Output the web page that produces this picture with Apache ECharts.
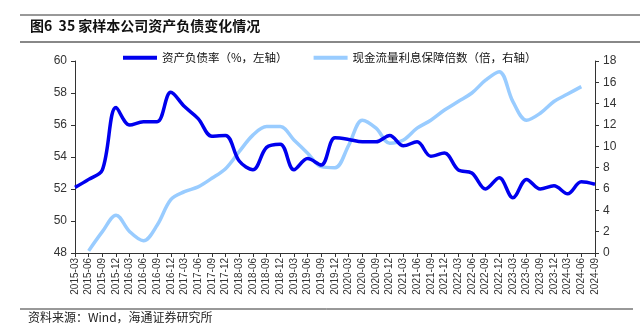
<!DOCTYPE html>
<html><head><meta charset="utf-8">
<script src="https://cdn.jsdelivr.net/npm/echarts@6/dist/echarts.min.js"></script>
<style>html,body{margin:0;padding:0;background:#fff}#c{width:640px;height:330px}</style>
</head><body><div id="c"></div>
<script>
const categories = ['2015-03','2015-06','2015-09','2015-12','2016-03','2016-06','2016-09','2016-12','2017-03','2017-06','2017-09','2017-12','2018-03','2018-06','2018-09','2018-12','2019-03','2019-06','2019-09','2019-12','2020-03','2020-06','2020-09','2020-12','2021-03','2021-06','2021-09','2021-12','2022-03','2022-06','2022-09','2022-12','2023-03','2023-06','2023-09','2023-12','2024-03','2024-06','2024-09'];
const debtRatio = [52.1,52.6,53.2,57.1,56.0,56.2,56.2,58.05,57.15,56.4,55.3,55.35,53.75,53.2,54.6,54.8,53.2,53.9,53.5,55.2,55.1,54.95,54.95,55.35,54.7,54.95,54.05,54.25,53.2,53.0,52.0,52.7,51.45,52.6,52.0,52.2,51.7,52.45,52.3];
const coverage = [null,0.2,2.0,3.55,2.0,1.15,2.6,5.0,5.75,6.2,7.0,7.9,9.5,11.05,11.85,11.85,10.6,9.35,8.1,8.0,10.1,12.45,11.7,10.3,10.6,11.7,12.45,13.4,14.2,15.0,16.2,17.0,14.2,12.45,13.1,14.2,14.9,15.6,null];
const seriesNames = ['资产负债率（%，左轴）','现金流量利息保障倍数（倍，右轴）'];
const titleText = '图6  35 家样本公司资产负债变化情况';
const sourceText = '资料来源：Wind，海通证券研究所';

const font = '"Noto Sans CJK SC", "Liberation Sans", sans-serif';
const chart = echarts.init(document.getElementById('c'), null, {renderer:'canvas'});
chart.setOption({
  animation:false,
  backgroundColor:'#fff',
  textStyle:{fontFamily:font},
  graphic:[
    {type:'line', shape:{x1:20,y1:15,x2:640,y2:15}, style:{stroke:'#333',lineWidth:1}},
    {type:'line', shape:{x1:20,y1:42,x2:640,y2:42}, style:{stroke:'#888',lineWidth:2}},
    {type:'text', left:30, top:19, style:{text:titleText, font:'bold 14px '+font, fill:'#111'}},
    {type:'line', shape:{x1:20,y1:309,x2:633,y2:309}, style:{stroke:'#333',lineWidth:1}},
    {type:'text', left:28, top:311, style:{text:sourceText, font:'12px '+font, fill:'#222'}}
  ],
  legend:{
    top:47, left:118, itemGap:26, itemWidth:34, itemHeight:4, icon:'rect',
    textStyle:{fontSize:11.5, color:'#111', fontFamily:font},
    data:seriesNames
  },
  grid:{left:75, right:45, top:61, bottom:77},
  xAxis:{
    type:'category', data:categories, boundaryGap:false,
    axisLine:{lineStyle:{color:'#333'}},
    axisTick:{show:true, alignWithLabel:true, interval:0, lineStyle:{color:'#333'}, length:4},
    axisLabel:{rotate:90, interval:0, fontSize:10, color:'#333', margin:5, fontFamily:'"Liberation Sans", Arial'}
  },
  yAxis:[
    {type:'value', min:48, max:60, interval:2, position:'left',
     axisLine:{show:true, lineStyle:{color:'#333'}}, axisTick:{show:true, length:4, lineStyle:{color:'#333'}},
     splitLine:{show:false}, axisLabel:{fontSize:12, color:'#333', margin:8, fontFamily:'"Liberation Sans", Arial'}},
    {type:'value', min:0, max:18, interval:2, position:'right',
     axisLine:{show:true, lineStyle:{color:'#333'}}, axisTick:{show:true, length:4, lineStyle:{color:'#333'}},
     splitLine:{show:false}, axisLabel:{fontSize:12, color:'#333', margin:8, fontFamily:'"Liberation Sans", Arial'}}
  ],
  series:[
    {name:seriesNames[0], type:'line', yAxisIndex:0, data:debtRatio, smooth:0.35, symbol:'none',
     lineStyle:{color:'#0000EE', width:3.5}, itemStyle:{color:'#0000EE'}, z:3},
    {name:seriesNames[1], type:'line', yAxisIndex:1, data:coverage, smooth:0.35, symbol:'none',
     lineStyle:{color:'#99CCFF', width:3.5}, itemStyle:{color:'#99CCFF'}, z:2}
  ]
});
</script></body></html>
